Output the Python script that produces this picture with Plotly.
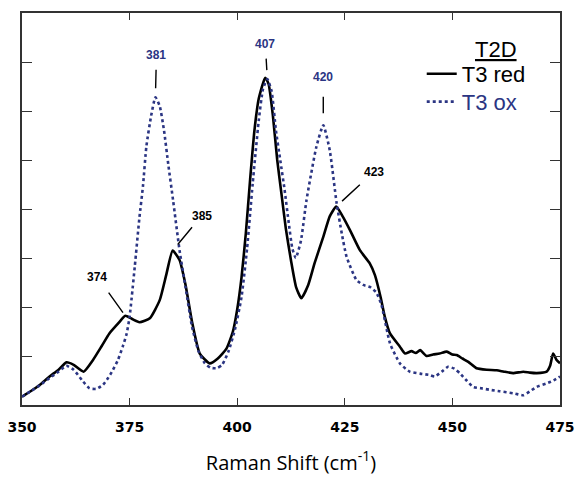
import numpy as np
import plotly.graph_objects as go

# Raman spectra of the T2D site, reduced vs oxidized T3
shift_red = [350, 352, 354.1, 356.4, 358.5, 360.3, 362, 364.3, 366.5, 368.5, 370.3, 372.5, 374,
             375.5, 377.3, 379.7, 382, 383.5, 385, 386.6, 388, 389.5, 391.3, 393.6, 395.5, 397.5,
             399, 400, 401, 402, 403, 404, 405, 406.5, 407.3, 408.3, 409.3, 410.3, 411.3, 412.5,
             413.7, 414.9, 416.5, 418, 420, 421.5, 423, 424.5, 426.2, 428.5, 430.8, 432, 433.3, 434.3,
             435.5, 437.8, 439, 440.5, 441.5, 442.5, 444, 445.5, 447, 448.7, 450, 451, 452.3,
             453.7, 455.6, 458, 460.3, 462, 464.1, 466.5, 468, 469.6, 471.9, 472.7, 473.4, 474.2, 475]
int_red = [0.17, 0.28, 0.41, 0.58, 0.72, 0.87, 0.82, 0.68, 0.92, 1.2, 1.46, 1.68, 1.82,
           1.76, 1.69, 1.77, 2.14, 2.65, 3.15, 2.96, 2.45, 1.7, 1.05, 0.85, 0.95, 1.15,
           1.5, 1.95, 2.6, 3.5, 4.6, 5.6, 6.25, 6.68, 6.55, 5.9, 5.0, 4.3, 3.6, 2.95,
           2.4, 2.18, 2.45, 2.9, 3.43, 3.85, 4.05, 3.85, 3.57, 3.16, 2.89, 2.65, 2.21, 1.8,
           1.46, 1.19, 1.05, 1.1, 1.06, 1.12, 1.0, 1.03, 1.05, 1.09, 1.03, 1.02, 0.95,
           0.88, 0.75, 0.72, 0.71, 0.68, 0.65, 0.68, 0.66, 0.65, 0.68, 0.8, 1.05, 0.92, 0.85]

shift_ox = [350, 352, 354.1, 356.4, 358.5, 360.3, 362, 364, 365.7, 367.3, 368.8, 370, 371.1,
            372.3, 373.4, 374.3, 375, 376.2, 377.3, 378.1, 378.9, 380, 381, 382, 383,
            384, 385.1, 386.6, 388, 389.5, 391, 392.5, 393.8, 395.2, 396.5, 398, 399.5,
            401, 402.3, 403.6, 405, 406, 407, 408, 409, 410, 411, 412, 412.8, 413.6, 414.8, 416.1,
            418.4, 420, 421.5, 423.1, 424.3, 425.4, 427.7, 429.3, 430.8, 432.3, 433.5, 435.5,
            437.8, 440.1, 442.5, 444.8, 445.9, 447.5, 449, 450.5, 451.7, 453.3, 454.8, 456.7,
            458.7, 461, 464.1, 466.5, 468, 469.6, 471.9, 473.5, 475]
int_ox = [0.17, 0.28, 0.4, 0.55, 0.68, 0.8, 0.72, 0.5, 0.34, 0.33, 0.41, 0.55, 0.71,
          0.92, 1.19, 1.45, 1.8, 2.82, 3.84, 4.46, 5.28, 5.9, 6.28, 6.1, 5.6,
          4.9, 4.18, 3.16, 2.4, 1.6, 1.1, 0.85, 0.76, 0.75, 0.82, 1.1, 1.55,
          2.2, 3.2, 4.52, 5.8, 6.45, 6.65, 6.4, 5.6, 5.0, 4.4, 3.7, 3.2, 3.0, 3.35, 4.18,
          5.27, 5.71, 5.2, 4.12, 3.5, 3.03, 2.55, 2.45, 2.41, 2.3, 2.05, 1.26,
          0.85, 0.68, 0.64, 0.61, 0.58, 0.68, 0.78, 0.74, 0.65, 0.5, 0.37, 0.34,
          0.31, 0.28, 0.24, 0.2, 0.28, 0.37, 0.44, 0.5, 0.58]

# labelled band positions (cm-1)
peaks_ox = [381, 407, 420]
peaks_red = [374, 385, 423]

x_ticks = [350, 375, 400, 425, 450, 475]

BLUE = "#2b3583"
ARIAL = "Liberation Sans"

fig = go.Figure()
fig.add_trace(go.Scatter(
    x=shift_red, y=int_red, mode="lines", name="T3 red", legend="legend",
    line=dict(color="black", width=2.6, shape="spline", smoothing=0.5),
))
fig.add_trace(go.Scatter(
    x=shift_ox, y=int_ox, mode="lines", legend="legend2",
    name=f'<span style="color:{BLUE}">T3 ox</span>',
    line=dict(color=BLUE, width=2.6, dash="dot", shape="spline", smoothing=0.5),
))

# leader-line label offsets: (ax, ay, standoff at band, standoff at text)
label_style_ox = {381: (1, -42, 9, 6), 407: (-2, -35, 9, 6), 420: (0, -48, 12, 11)}
label_style_red = {374: (-28, -39, 4, 9), 385: (29, -35, 8, 4), 423: (38, -35, 8, 7)}

for pk in peaks_ox:
    ax, ay, so, sso = label_style_ox[pk]
    fig.add_annotation(
        x=pk, y=float(np.interp(pk, shift_ox, int_ox)), text=str(pk),
        showarrow=True, arrowhead=0, arrowwidth=1.4, arrowcolor="black",
        ax=ax, ay=ay, standoff=so, startstandoff=sso,
        font=dict(family=ARIAL, size=12, color=BLUE, weight="bold"),
    )
for pk in peaks_red:
    ax, ay, so, sso = label_style_red[pk]
    fig.add_annotation(
        x=pk, y=float(np.interp(pk, shift_red, int_red)), text=str(pk),
        showarrow=True, arrowhead=0, arrowwidth=1.4, arrowcolor="black",
        ax=ax, ay=ay, standoff=so, startstandoff=sso,
        font=dict(family=ARIAL, size=12, color="black", weight="bold"),
    )

# legend heading
fig.add_annotation(
    xref="paper", yref="paper", x=0.881, y=0.906, xanchor="center", yanchor="middle",
    showarrow=False,
    text='<span style="text-decoration:underline">T2D</span>',
    font=dict(family=ARIAL, size=22, color="black"),
)

legend_common = dict(
    xanchor="left", yanchor="top",
    bgcolor="rgba(0,0,0,0)", borderwidth=0,
    font=dict(family=ARIAL, size=22, color="black"),
    itemwidth=30,
)

fig.update_layout(
    width=576, height=480,
    margin=dict(l=22, r=16, t=13, b=75, autoexpand=False),
    paper_bgcolor="white", plot_bgcolor="white",
    showlegend=True,
    legend=dict(x=0.743, y=0.898, **legend_common),
    legend2=dict(x=0.743, y=0.827, **legend_common),
    xaxis=dict(
        range=[350, 475], tickvals=x_ticks, ticktext=[str(t) for t in x_ticks],
        ticks="inside", ticklen=7, tickwidth=1.3, tickcolor="#333",
        showline=True, linecolor="#333", linewidth=1.5, mirror="allticks",
        showgrid=False, zeroline=False, automargin=False,
        tickfont=dict(family="DejaVu Sans", size=14, color="black", weight="bold"),
        ticklabelstandoff=8,
        title=dict(text="Raman Shift (cm<sup>-1</sup>)",
                   font=dict(family="Open Sans", size=20, color="black"), standoff=22),
    ),
    yaxis=dict(
        range=[0, 8], dtick=1, showticklabels=False,
        ticks="inside", ticklen=10, tickwidth=1.3, tickcolor="#333",
        showline=True, linecolor="#333", linewidth=1.5, mirror="allticks",
        showgrid=False, zeroline=False, automargin=False,
    ),
)

fig.write_html("out.html")
